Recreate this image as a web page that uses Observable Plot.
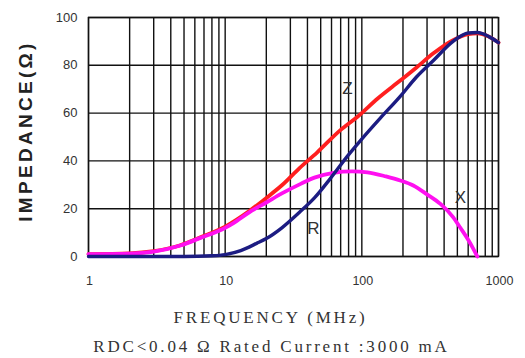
<!DOCTYPE html>
<html>
<head>
<meta charset="utf-8">
<script src="https://cdn.jsdelivr.net/npm/d3@7"></script>
<script src="https://cdn.jsdelivr.net/npm/@observablehq/plot@0.6"></script>
<style>
  html, body { margin: 0; padding: 0; background: #fff; }
  #chart { width: 525px; height: 358px; }
</style>
</head>
<body>
<div id="chart"></div>
<script>
// Impedance curves (frequency in MHz, impedance in ohms)
const zFreq = [1, 2, 3, 4.7, 6.6, 10, 15, 20, 26, 35, 47, 70, 93, 130, 191, 250, 334, 465, 600, 700, 850, 1000];
const zVals = [1, 1.3, 2.2, 4.7, 8, 12.5, 19, 24.5, 29.8, 37, 43.5, 53, 58.5, 66, 73.6, 79, 85, 90.5, 93, 93.4, 92, 89.5];

const rFreq = [1, 3, 5, 8, 10, 13, 17, 20, 26, 35, 45, 58.6, 78.5, 97.7, 137, 191, 250, 334, 465, 600, 700, 850, 1000];
const rVals = [0, 0, 0, 0.3, 0.8, 2.5, 5.5, 7.5, 12, 18.5, 24.5, 32.5, 42, 48.5, 58, 67, 75, 82, 90, 93.5, 93.7, 92, 89.5];

const xFreq = [1, 2, 3, 4.7, 6.6, 10, 11.5, 15, 20, 26, 36, 45, 62, 85, 110, 150, 191, 238, 300, 376, 465, 526, 600, 650, 700];
const xVals = [1, 1.2, 2, 4.6, 7.8, 12, 14, 18.5, 22.6, 26.4, 30.5, 33, 35, 35.6, 35.2, 33.5, 31.8, 29.7, 26, 22, 16.5, 12, 7, 3.5, 0];

// Axis ticks / grid
const xTickValues = [1, 10, 100, 1000];
const xGrid = [];
for (const d of [1, 10, 100]) for (let k = 1; k <= 9; k++) xGrid.push(k * d);
xGrid.push(1000);
const yTickValues = [0, 20, 40, 60, 80, 100];

// Curve labels
const labelNames = ["Z", "R", "X"];
const labelFreq = [78.5, 44.3, 526];
const labelVals = [70.3, 11.7, 24.7];

// Texts
const yTitle = "IMPEDANCE(Ω)";
const xTitle = "FREQUENCY (MHz)";
const caption = "RDC<0.04 Ω Rated Current :3000 mA";

const toRows = (fs, vs) => fs.map((f, i) => ({f, v: vs[i]}));
const zData = toRows(zFreq, zVals);
const rData = toRows(rFreq, rVals);
const xData = toRows(xFreq, xVals);
const labels = labelNames.map((n, i) => ({n, f: labelFreq[i], v: labelVals[i]}));

const serif = "'Liberation Serif', 'Times New Roman', serif";
const sans = "'Liberation Sans', Arial, sans-serif";

const chart = Plot.plot({
  width: 525,
  height: 358,
  marginLeft: 88,
  marginRight: 27,
  marginTop: 17,
  marginBottom: 102,
  style: {fontFamily: sans, background: "#fff", overflow: "visible"},
  x: {type: "log", domain: [1, 1000], range: [88, 498]},
  y: {domain: [0, 100]},
  marks: [
    Plot.ruleX(xGrid, {stroke: "#111", strokeWidth: 1.4}),
    Plot.ruleY(yTickValues, {stroke: "#111", strokeWidth: 1.4}),
    Plot.frame({stroke: "#111", strokeWidth: 1.4}),
    Plot.axisX(xTickValues, {tickSize: 0, tickPadding: 20, tickFormat: d => String(d), fontSize: 12.5, fill: "#333", dx: 1, label: null}),
    Plot.axisY(yTickValues, {tickSize: 0, tickPadding: 11, fontSize: 13, fill: "#333", label: null}),
    Plot.line(zData, {x: "f", y: "v", stroke: "#ff1f1f", strokeWidth: 3.8, curve: "monotone-x"}),
    Plot.line(xData, {x: "f", y: "v", stroke: "#ff10f0", strokeWidth: 3.8, curve: "monotone-x"}),
    Plot.line(rData, {x: "f", y: "v", stroke: "#1c1c82", strokeWidth: 3.4, curve: "monotone-x"}),
    Plot.text(labels, {x: "f", y: "v", text: "n", fontSize: 17, fill: "#333", fontFamily: sans}),
    Plot.text([yTitle], {frameAnchor: "left", textAnchor: "middle", dx: -63, dy: -6, rotate: -90, fontSize: 19, fontWeight: "bold", fill: "#222", fontFamily: sans}),
    Plot.text([xTitle], {frameAnchor: "bottom", dx: -23, dy: 66, fontSize: 17, fill: "#333", fontFamily: serif}),
    Plot.text([caption], {frameAnchor: "bottom", dx: -22, dy: 95, fontSize: 17, fill: "#333", fontFamily: serif})
  ]
});

// letter spacing for the titles (Plot text has no letter-spacing option)
const spacing = new Map([[yTitle, "3.3px"], [xTitle, "2.8px"], [caption, "2.8px"]]);
d3.select(chart).selectAll("text").each(function() {
  const s = spacing.get(this.textContent);
  if (s) this.setAttribute("letter-spacing", s);
});
document.getElementById("chart").appendChild(chart);
</script>
</body>
</html>
